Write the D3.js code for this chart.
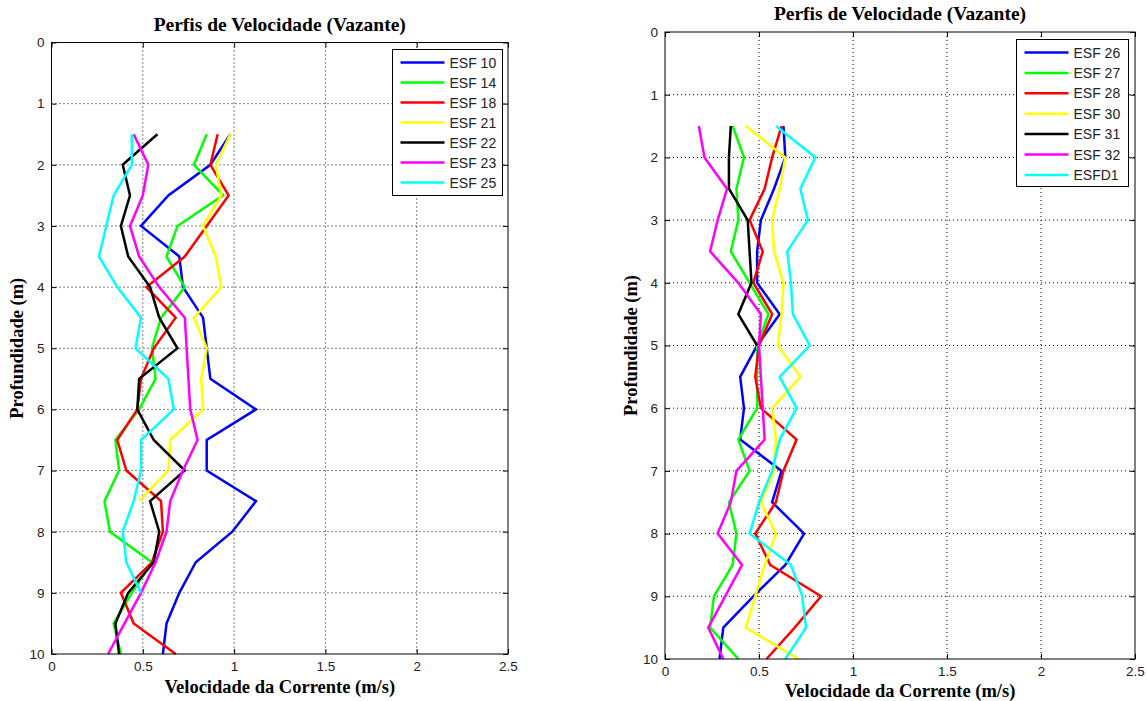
<!DOCTYPE html>
<html>
<head>
<meta charset="utf-8">
<script src="https://cdn.jsdelivr.net/npm/d3@7"></script>
<style>
  body { margin: 0; background: #fff; }
  .tick text { font-family: "Liberation Sans", Arial, sans-serif; font-size: 13.5px; fill: #222; }
  .ttl { font-family: "Liberation Serif", "Times New Roman", serif; font-weight: bold; fill: #000; }
  .leg text { font-family: "Liberation Sans", Arial, sans-serif; font-size: 14px; fill: #222; }
</style>
</head>
<body>
<svg id="chart" width="1147" height="701"></svg>
<script>
// profundidades (m) dos pontos medidos
var depths = [1.5, 2, 2.5, 3, 3.5, 4, 4.5, 5, 5.5, 6, 6.5, 7, 7.5, 8, 8.5, 9, 9.5, 10];
var xTicks = [0, 0.5, 1, 1.5, 2, 2.5];
var yTicks = [0, 1, 2, 3, 4, 5, 6, 7, 8, 9, 10];
var lineColors = ["#0000ff", "#00ff00", "#ff0000", "#ffff00", "#000000", "#ff00ff", "#00ffff"];

// painel esquerdo
var leftNames = ["ESF 10", "ESF 14", "ESF 18", "ESF 21", "ESF 22", "ESF 23", "ESF 25"];
var esf10 = [0.98, 0.87, 0.64, 0.49, 0.70, 0.72, 0.83, 0.85, 0.87, 1.12, 0.85, 0.85, 1.12, 0.99, 0.79, 0.70, 0.63, 0.61];
var esf14 = [0.85, 0.78, 0.94, 0.69, 0.63, 0.73, 0.60, 0.55, 0.57, 0.48, 0.35, 0.37, 0.29, 0.32, 0.55, 0.44, 0.34, 0.38];
var esf18 = [0.91, 0.87, 0.97, 0.85, 0.73, 0.52, 0.68, 0.56, 0.49, 0.47, 0.36, 0.41, 0.60, 0.61, 0.55, 0.38, 0.45, 0.68];
var esf21 = [0.98, 0.90, 0.93, 0.83, 0.90, 0.93, 0.78, 0.85, 0.82, 0.83, 0.65, 0.64, 0.48];
var esf22 = [0.58, 0.39, 0.43, 0.38, 0.42, 0.54, 0.59, 0.69, 0.48, 0.47, 0.56, 0.73, 0.54, 0.59, 0.56, 0.42, 0.35, 0.37];
var esf23 = [0.45, 0.53, 0.50, 0.43, 0.48, 0.59, 0.73, 0.74, 0.75, 0.76, 0.80, 0.72, 0.65, 0.63, 0.57, 0.49, 0.40, 0.31];
var esf25 = [0.44, 0.44, 0.34, 0.30, 0.26, 0.36, 0.49, 0.46, 0.64, 0.67, 0.49, 0.49, 0.45, 0.39, 0.41, 0.49];

// painel direito
var rightNames = ["ESF 26", "ESF 27", "ESF 28", "ESF 30", "ESF 31", "ESF 32", "ESFD1"];
var esf26 = [0.63, 0.64, 0.58, 0.51, 0.49, 0.49, 0.61, 0.49, 0.40, 0.42, 0.40, 0.62, 0.57, 0.74, 0.64, 0.47, 0.31, 0.29];
var esf27 = [0.36, 0.42, 0.38, 0.39, 0.35, 0.45, 0.55, 0.49, 0.49, 0.49, 0.39, 0.45, 0.34, 0.38, 0.36, 0.26, 0.24, 0.39];
var esf28 = [0.62, 0.57, 0.53, 0.45, 0.52, 0.47, 0.57, 0.50, 0.48, 0.51, 0.70, 0.63, 0.59, 0.48, 0.56, 0.83, 0.69, 0.54];
var esf30 = [0.43, 0.64, 0.61, 0.57, 0.58, 0.63, 0.62, 0.60, 0.72, 0.57, 0.59, 0.58, 0.51, 0.59, 0.53, 0.48, 0.43, 0.71];
var esf31 = [0.35, 0.34, 0.34, 0.44, 0.45, 0.46, 0.39, 0.49];
var esf32 = [0.18, 0.21, 0.33, 0.28, 0.24, 0.39, 0.51, 0.50, 0.51, 0.52, 0.53, 0.38, 0.35, 0.28, 0.41, 0.32, 0.23, 0.31];
var esfd1 = [0.59, 0.80, 0.72, 0.76, 0.65, 0.67, 0.68, 0.77, 0.61, 0.70, 0.61, 0.57, 0.50, 0.45, 0.67, 0.73, 0.75, 0.64];

var svg = d3.select("#chart");

function drawPanel(p) {
  var x = d3.scaleLinear().domain([0, 2.5]).range([p.left, p.right]);
  var y = d3.scaleLinear().domain([0, 10]).range([p.top, p.bottom]);
  var g = svg.append("g");

  // grade pontilhada
  g.selectAll(".gx").data(xTicks.slice(1, -1)).enter().append("line")
    .attr("x1", d => x(d)).attr("x2", d => x(d))
    .attr("y1", p.top).attr("y2", p.bottom)
    .attr("stroke", "#000").attr("stroke-width", 1).attr("stroke-dasharray", "1,3");
  g.selectAll(".gy").data(yTicks.slice(1, -1)).enter().append("line")
    .attr("x1", p.left).attr("x2", p.right)
    .attr("y1", d => y(d)).attr("y2", d => y(d))
    .attr("stroke", "#000").attr("stroke-width", 1).attr("stroke-dasharray", "1,3");

  // curvas
  var line = d3.line().x(d => x(d.v)).y(d => y(d.z));
  p.series.forEach(function(vals, i) {
    var pts = vals.map((v, k) => ({ v: v, z: depths[k] }));
    g.append("path").datum(pts)
      .attr("d", line)
      .attr("fill", "none")
      .attr("stroke", lineColors[i])
      .attr("stroke-width", 2.5)
      .attr("stroke-linejoin", "miter");
  });

  // eixos (ticks para dentro, estilo matlab)
  var fmt = d => String(d);
  var ax = g.append("g").attr("transform", "translate(0," + p.bottom + ")")
    .call(d3.axisBottom(x).tickValues(xTicks).tickSize(-5).tickPadding(7).tickFormat(fmt));
  var axT = g.append("g").attr("transform", "translate(0," + p.top + ")")
    .call(d3.axisTop(x).tickValues(xTicks).tickSize(-5).tickFormat(""));
  var ay = g.append("g").attr("transform", "translate(" + p.left + ",0)")
    .call(d3.axisLeft(y).tickValues(yTicks).tickSize(-5).tickPadding(7).tickFormat(fmt));
  var ayR = g.append("g").attr("transform", "translate(" + p.right + ",0)")
    .call(d3.axisRight(y).tickValues(yTicks).tickSize(-5).tickFormat(""));
  [ax, axT, ay, ayR].forEach(function(a) {
    a.select(".domain").remove();
    a.selectAll(".tick line").attr("stroke", "#000");
  });

  g.append("rect")
    .attr("x", p.left).attr("y", p.top)
    .attr("width", p.right - p.left).attr("height", p.bottom - p.top)
    .attr("fill", "none").attr("stroke", "#000").attr("stroke-width", 1);

  // legenda
  var leg = g.append("g").attr("class", "leg");
  leg.append("rect")
    .attr("x", p.legX).attr("y", p.legY)
    .attr("width", p.legW).attr("height", p.legH)
    .attr("fill", "#fff").attr("stroke", "#000").attr("stroke-width", 1);
  p.names.forEach(function(n, i) {
    var ly = p.legY + 13 + i * p.legStep;
    leg.append("line")
      .attr("x1", p.legX + 8).attr("x2", p.legX + 52)
      .attr("y1", ly).attr("y2", ly)
      .attr("stroke", lineColors[i]).attr("stroke-width", 2.5);
    leg.append("text")
      .attr("x", p.legX + 57).attr("y", ly + 5)
      .text(n);
  });

  // titulos
  var cx = (p.left + p.right) / 2;
  g.append("text").attr("class", "ttl")
    .attr("x", cx).attr("y", p.titleY)
    .attr("text-anchor", "middle").attr("font-size", 19.5)
    .text("Perfis de Velocidade (Vazante)");
  g.append("text").attr("class", "ttl")
    .attr("x", cx).attr("y", p.xlabY)
    .attr("text-anchor", "middle").attr("font-size", 18.5)
    .text("Velocidade da Corrente (m/s)");
  g.append("text").attr("class", "ttl")
    .attr("transform", "translate(" + p.ylabX + "," + ((p.top + p.bottom) / 2) + ") rotate(-90)")
    .attr("text-anchor", "middle").attr("font-size", 18.5)
    .text("Profundidade (m)");
}

drawPanel({
  left: 51.5, right: 508, top: 42.5, bottom: 654,
  series: [esf10, esf14, esf18, esf21, esf22, esf23, esf25],
  names: leftNames,
  legX: 392.5, legY: 49.5, legW: 110, legH: 146, legStep: 20,
  titleY: 31, xlabY: 693, ylabX: 23
});

drawPanel({
  left: 665, right: 1135, top: 32, bottom: 659,
  series: [esf26, esf27, esf28, esf30, esf31, esf32, esfd1],
  names: rightNames,
  legX: 1016.5, legY: 39.5, legW: 112, legH: 147, legStep: 20.4,
  titleY: 20, xlabY: 697, ylabX: 637
});
</script>
</body>
</html>
